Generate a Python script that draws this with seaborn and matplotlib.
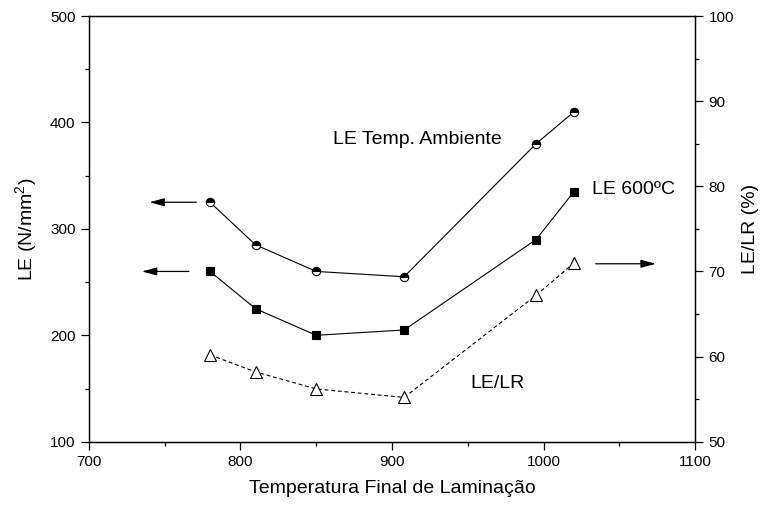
"""LE e LE/LR em função da temperatura final de laminação."""
import matplotlib
matplotlib.use("Agg")
import matplotlib.pyplot as plt
from matplotlib.ticker import MultipleLocator
import seaborn as sns

# Dados
temperatura = [780, 810, 850, 908, 995, 1020]
le_ambiente = [325, 285, 260, 255, 380, 410]
le_600 = [260, 225, 200, 205, 290, 335]
le_lr = [60.2, 58.2, 56.2, 55.2, 67.2, 71.0]

sns.set_style("ticks")
plt.rcParams["font.family"] = ["Liberation Sans", "DejaVu Sans"]
plt.rcParams["mathtext.default"] = "regular"
for k in ("text.color", "axes.labelcolor", "xtick.color", "ytick.color",
          "axes.edgecolor"):
    plt.rcParams[k] = "black"

fig = plt.figure(figsize=(7.62, 5.05), dpi=100)
ax = fig.add_axes([0.1164, 0.1253, 0.7961, 0.8430])
ax2 = ax.twinx()

# LE temperatura ambiente: círculos meio preenchidos
sns.lineplot(x=temperatura, y=le_ambiente, ax=ax, color="black", lw=0.8,
             marker="o", markersize=6, fillstyle="top",
             markerfacecolor="black", markerfacecoloralt="white",
             markeredgecolor="black", markeredgewidth=0.8)
# LE 600ºC: quadrados cheios
sns.lineplot(x=temperatura, y=le_600, ax=ax, color="black", lw=0.8,
             marker="s", markersize=6, markerfacecolor="black",
             markeredgecolor="black", markeredgewidth=0.8)
# LE/LR: triângulos vazios, linha tracejada (eixo direito)
sns.lineplot(x=temperatura, y=le_lr, ax=ax2, color="black", lw=0.8,
             linestyle=(0, (3.5, 2.5)), marker="^", markersize=8,
             markerfacecolor="white", markeredgecolor="black",
             markeredgewidth=0.8)

ax.set_xlim(700, 1100)
ax.set_ylim(100, 500)
ax2.set_ylim(50, 100)
ax.xaxis.set_major_locator(MultipleLocator(100))
ax.xaxis.set_minor_locator(MultipleLocator(50))
ax.yaxis.set_major_locator(MultipleLocator(100))
ax.yaxis.set_minor_locator(MultipleLocator(50))
ax2.yaxis.set_major_locator(MultipleLocator(10))
ax2.yaxis.set_minor_locator(MultipleLocator(5))

for a in (ax, ax2):
    for s in a.spines.values():
        s.set_visible(True)
        s.set_linewidth(0.9)
        s.set_color("black")
ax.tick_params(which="major", direction="out", length=5.5, width=0.9,
               labelsize=11, pad=4, top=False, right=False)
ax.tick_params(which="minor", direction="out", length=3, width=0.9,
               top=False, right=False)
ax2.tick_params(which="major", direction="out", length=5.5, width=0.9,
                labelsize=11, pad=4)
ax2.tick_params(which="minor", direction="out", length=3, width=0.9)

ax.set_xlabel("Temperatura Final de Laminação", fontsize=14, labelpad=8)
ax.set_ylabel("LE (N/mm$^2$)", fontsize=14, labelpad=8)
ax2.set_ylabel("LE/LR (%)", fontsize=14, labelpad=6)

# rótulos das curvas
ax.text(861, 379.5, "LE Temp. Ambiente", fontsize=14, ha="left", va="baseline")
ax.text(1032, 332.7, "LE 600ºC", fontsize=14, ha="left", va="baseline")
ax.text(951.4, 150.2, "LE/LR", fontsize=14, ha="left", va="baseline")

# setas indicando o eixo de cada curva
seta = dict(arrowstyle="-|>,head_length=0.45,head_width=0.12",
            color="black", lw=0.9, mutation_scale=20, shrinkA=0, shrinkB=0)
ax.annotate("", xy=(740, 325), xytext=(771, 325), arrowprops=seta)
ax.annotate("", xy=(735, 260), xytext=(766, 260), arrowprops=seta)
ax2.annotate("", xy=(1074, 70.9), xytext=(1034.3, 70.9), arrowprops=seta)

fig.savefig("out.png", dpi=100)
plt.close(fig)
